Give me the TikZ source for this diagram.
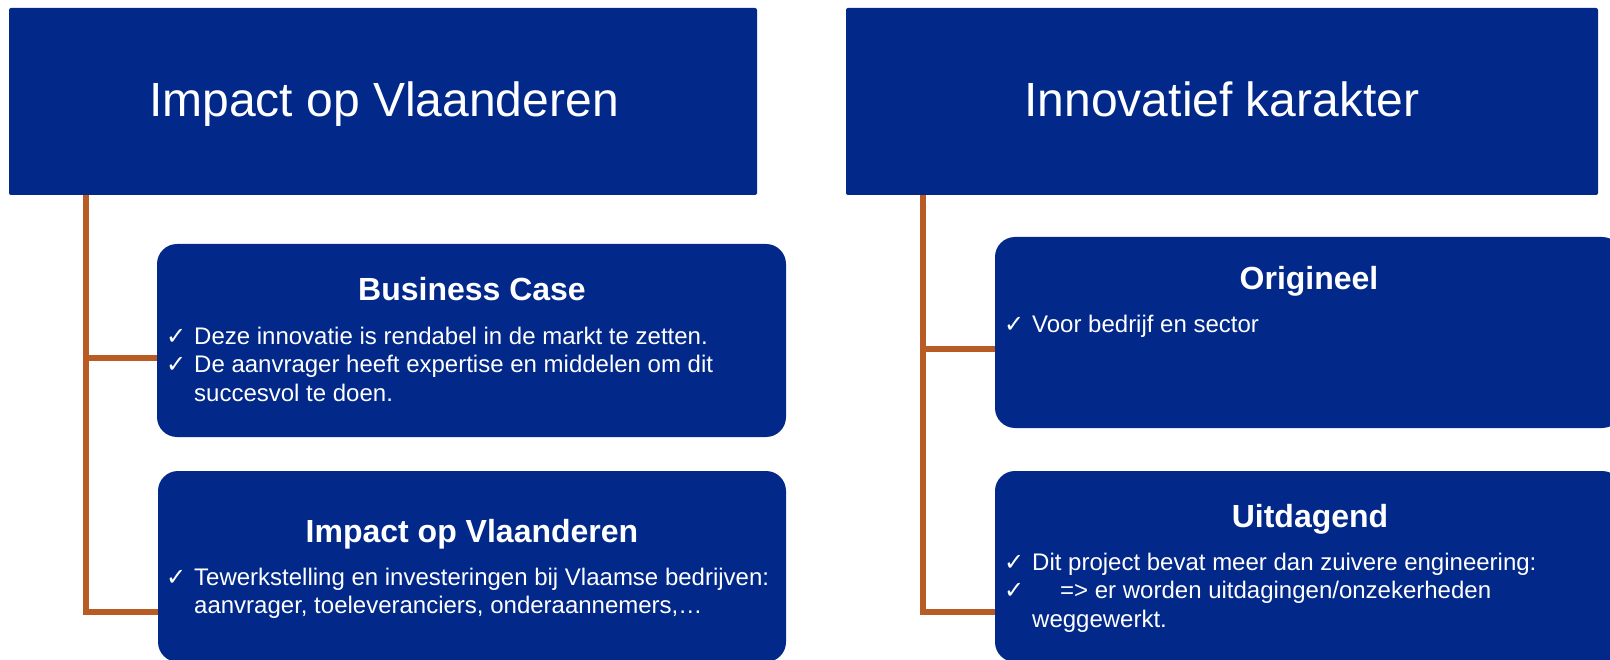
\documentclass[tikz,border=0pt]{standalone}
\usepackage{fontspec}
\setmainfont{Liberation Sans}
\newfontfamily\symfont{DejaVu Sans}
\definecolor{boxblue}{HTML}{02298A}
\definecolor{connorange}{HTML}{B95B25}
\tikzset{
  topbox/.style={draw=none, fill=boxblue, rounded corners=2pt, inner sep=0pt},
  subbox/.style={draw=none, fill=boxblue, rounded corners=20pt, inner sep=0pt},
  conn/.style={draw=connorange, line width=5.5pt},
  titletext/.style={text=white, font=\fontsize{48}{58}\selectfont, inner sep=0pt, anchor=base},
  headtext/.style={text=white, font=\bfseries\fontsize{32}{38}\selectfont, inner sep=0pt, anchor=base},
  bodytext/.style={text=white, font=\fontsize{24}{29}\selectfont, inner sep=0pt, anchor=base west},
  checkmark/.style={text=white, font=\symfont\fontsize{24}{29}\selectfont, inner sep=0pt, anchor=base west}
}
\begin{document}
\begin{tikzpicture}[x=1pt,y=-1pt]
\useasboundingbox (0,0) rectangle (1610,660);
% top boxes
\path[topbox] (9,8) rectangle (757,195);
\node[inner sep=0pt, minimum width=748pt, minimum height=187pt] (top1) at (383,101.5) {};
\path[topbox] (846,8) rectangle (1598,195);
\node[inner sep=0pt, minimum width=752pt, minimum height=187pt] (top2) at (1222,101.5) {};
% sub boxes
\path[subbox] (157,244) rectangle (786,437);
\node[inner sep=0pt, minimum width=629pt, minimum height=193pt] (bc) at (471.5,340.5) {};
\path[subbox] (158,471) rectangle (786,662);
\node[inner sep=0pt, minimum width=628pt, minimum height=191pt] (bi) at (472,566.5) {};
\path[subbox] (995,237) rectangle (1622,428);
\node[inner sep=0pt, minimum width=627pt, minimum height=191pt] (og) at (1308.5,332.5) {};
\path[subbox] (995,471) rectangle (1622,662);
\node[inner sep=0pt, minimum width=627pt, minimum height=191pt] (ud) at (1308.5,566.5) {};
% connectors
\coordinate (a1) at (86,358);
\coordinate (a2) at (86,612);
\draw[conn] (top1.south -| a2) -- (a2) -- (a2 -| bi.west);
\draw[conn] (a1) -- (a1 -| bc.west);
\coordinate (b1) at (923,349);
\coordinate (b2) at (923,612);
\draw[conn] (top2.south -| b2) -- (b2) -- (b2 -| ud.west);
\draw[conn] (b1) -- (b1 -| og.west);
% titles
\node[titletext] (t1) at (384,117) {Impact op Vlaanderen};
\node[titletext] (t2) at (1222,117) {Innovatief karakter};
% Business Case
\node[headtext] (h1) at (472,301) {Business Case};
\node[checkmark] (c11) at (166,345) {✓};
\node[bodytext] (l11) at (194,345) {Deze innovatie is rendabel in de markt te zetten.};
\node[checkmark] (c12) at (166,373) {✓};
\node[bodytext] (l12) at (194,373) {De aanvrager heeft expertise en middelen om dit};
\node[bodytext] (l13) at (194,402) {succesvol te doen.};
% Impact op Vlaanderen
\node[headtext] (h2) at (472,542) {Impact op Vlaanderen};
\node[checkmark] (c21) at (166,585) {✓};
\node[bodytext] (l21) at (194,585) {Tewerkstelling en investeringen bij Vlaamse bedrijven:};
\node[bodytext] (l22) at (194,613) {aanvrager, toeleveranciers, onderaannemers,…};
% Origineel
\node[headtext] (h3) at (1309,290) {Origineel};
\node[checkmark] (c31) at (1004,333) {✓};
\node[bodytext] (l31) at (1032,333) {Voor bedrijf en sector};
% Uitdagend
\node[headtext] (h4) at (1310,527) {Uitdagend};
\node[checkmark] (c41) at (1004,570) {✓};
\node[bodytext] (l41) at (1032,570) {Dit project bevat meer dan zuivere engineering:};
\node[checkmark] (c42) at (1004,598) {✓};
\node[bodytext] (l42) at (1060,598) {=> er worden uitdagingen/onzekerheden};
\node[bodytext] (l43) at (1032,627) {weggewerkt.};
\end{tikzpicture}
\end{document}
